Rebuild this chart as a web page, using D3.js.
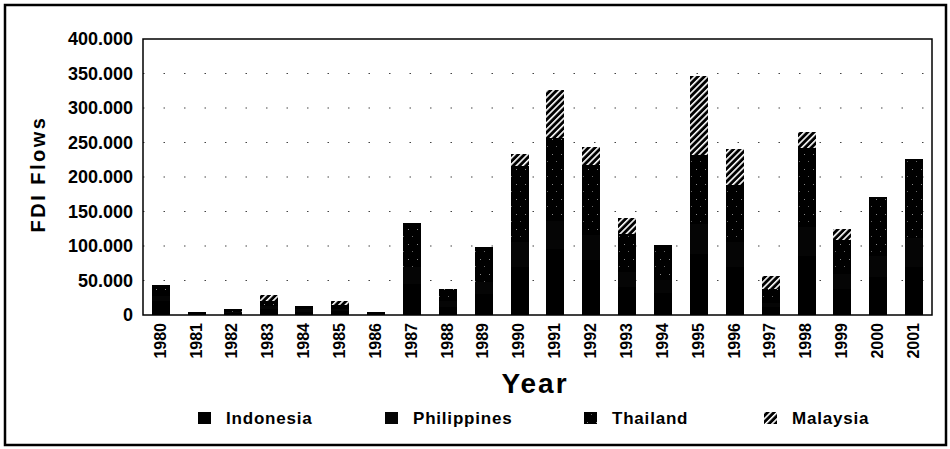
<!DOCTYPE html>
<html lang="en">
<head>
<meta charset="UTF-8">
<title>FDI Flows by Year</title>
<script src="https://d3js.org/d3.v7.min.js"></script>
<style>
  body { margin: 0; background: #fff; }
  text { font-family: Arial, "Liberation Sans", sans-serif; font-weight: bold; fill: #000; }
</style>
</head>
<body>
<svg id="chart" width="950" height="449"></svg>
<script>
// ---- data ----
const years = ["1980","1981","1982","1983","1984","1985","1986","1987","1988","1989","1990",
               "1991","1992","1993","1994","1995","1996","1997","1998","1999","2000","2001"];
const indonesia   = [20, 1, 3, 8, 5, 6, 1, 45, 12, 30, 70, 95, 80, 40, 32, 88, 70, 12, 85, 38, 55, 70];
const philippines = [ 8, 1, 2, 5, 3, 3, 1, 25,  8, 18, 36, 41, 36, 22, 19, 44, 36,  6, 42, 21, 31, 41];
const thailand    = [16, 2, 3, 8, 5, 6, 2, 64, 18, 50,110,120,101, 56, 50,100, 82, 20,115, 50, 85,115];
const malaysia    = [ 0, 0, 0, 8, 0, 5, 0,  0,  0,  0, 17, 70, 26, 23,  0,115, 52, 19, 23, 15,  0,  0];
const seriesNames = ["Indonesia", "Philippines", "Thailand", "Malaysia"];
const yTicks = [0, 50, 100, 150, 200, 250, 300, 350, 400];
const yTickLabels = ["0", "50.000", "100.000", "150.000", "200.000", "250.000", "300.000", "350.000", "400.000"];

const svg = d3.select("#chart");

// patterns for the black-and-white fills
const defs = svg.append("defs");
const hatch = defs.append("pattern").attr("id", "hatch")
    .attr("patternUnits", "userSpaceOnUse").attr("width", 4.5).attr("height", 4.5)
    .attr("patternTransform", "rotate(45)");
hatch.append("rect").attr("width", 4.5).attr("height", 4.5).attr("fill", "#000");
hatch.append("rect").attr("width", 1.6).attr("height", 4.5).attr("fill", "#fff");

const dots = defs.append("pattern").attr("id", "dots")
    .attr("patternUnits", "userSpaceOnUse").attr("width", 9).attr("height", 15);
dots.append("rect").attr("width", 9).attr("height", 15).attr("fill", "#000");
dots.append("rect").attr("x", 3).attr("y", 4).attr("width", 1).attr("height", 1).attr("fill", "#888");
dots.append("rect").attr("x", 7).attr("y", 11).attr("width", 1).attr("height", 1).attr("fill", "#666");

const fills = {
  Indonesia: "#000",
  Philippines: "#050505",
  Thailand: "url(#dots)",
  Malaysia: "url(#hatch)"
};

// outer frame of the scanned figure
svg.append("rect").attr("x", 5).attr("y", 5).attr("width", 941).attr("height", 440)
    .attr("fill", "none").attr("stroke", "#000").attr("stroke-width", 2.5);

const x = d3.scaleBand().domain(years).range([143, 932]).paddingInner(0.5).paddingOuter(0.25);
const y = d3.scaleLinear().domain([0, 400]).range([315, 39]);

// dotted gridlines
svg.append("g").selectAll("line")
  .data(yTicks.filter(d => d > 0 && d < 400))
  .join("line")
  .attr("x1", 143).attr("x2", 932)
  .attr("y1", d => y(d)).attr("y2", d => y(d))
  .attr("stroke", "#444").attr("stroke-width", 1.2)
  .attr("stroke-dasharray", "1.5,19");

// stacked bars
const table = years.map((yr, i) => ({
  year: yr,
  Indonesia: indonesia[i],
  Philippines: philippines[i],
  Thailand: thailand[i],
  Malaysia: malaysia[i]
}));
const stacked = d3.stack().keys(seriesNames)(table);

svg.append("g").attr("shape-rendering", "crispEdges")
  .selectAll("g")
  .data(stacked)
  .join("g")
  .attr("fill", d => fills[d.key])
  .selectAll("rect")
  .data(d => d)
  .join("rect")
  .attr("x", d => Math.round(x(d.data.year)))
  .attr("y", d => Math.round(y(d[1])))
  .attr("width", Math.round(x.bandwidth()))
  .attr("height", d => Math.round(y(d[0])) - Math.round(y(d[1])));

// plot frame
svg.append("rect").attr("x", 143).attr("y", y(400))
    .attr("width", 932 - 143).attr("height", y(0) - y(400))
    .attr("fill", "none").attr("stroke", "#000").attr("stroke-width", 1.5);

// y axis labels
svg.append("g").selectAll("text")
  .data(yTicks)
  .join("text")
  .attr("x", 133).attr("y", d => y(d))
  .attr("dy", "0.36em")
  .attr("text-anchor", "end")
  .style("font-size", "18px")
  .text((d, i) => yTickLabels[i]);

// x axis labels (rotated)
svg.append("g").selectAll("text")
  .data(years)
  .join("text")
  .attr("transform", d => `translate(${x(d) + x.bandwidth() / 2 - 1},323) rotate(-90)`)
  .attr("dy", "0.36em")
  .attr("text-anchor", "end")
  .style("font-size", "16px")
  .text(d => d);

// axis titles
svg.append("text")
  .attr("transform", "translate(38,174) rotate(-90)")
  .attr("dy", "0.36em")
  .attr("text-anchor", "middle")
  .style("font-size", "20px").style("letter-spacing", "2.5px")
  .text("FDI Flows");

svg.append("text")
  .attr("x", 535).attr("y", 383)
  .attr("dy", "0.36em")
  .attr("text-anchor", "middle")
  .style("font-size", "28px").style("letter-spacing", "2px")
  .text("Year");

// legend
const legendX = [198, 385, 584, 764];
const legend = svg.append("g").selectAll("g")
  .data(seriesNames)
  .join("g")
  .attr("transform", (d, i) => `translate(${legendX[i]},418)`);

legend.append("rect")
  .attr("x", 0).attr("y", -6)
  .attr("width", 13).attr("height", 12)
  .attr("fill", d => fills[d]);

legend.append("text")
  .attr("x", 28).attr("dy", "0.36em")
  .style("font-size", "17px").style("letter-spacing", "0.8px")
  .text(d => d);
</script>
</body>
</html>
